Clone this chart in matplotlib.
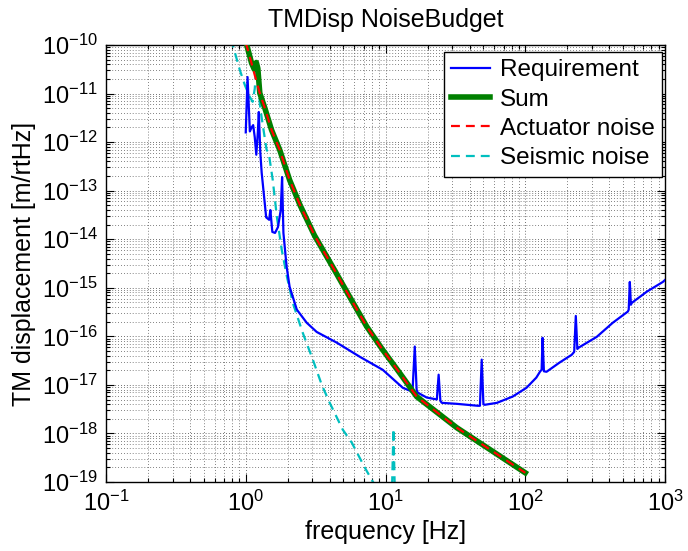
import numpy as np
import matplotlib
matplotlib.use("Agg")
import matplotlib.pyplot as plt

# ---- data ----
req_f = [1.00, 1.03, 1.07, 1.10, 1.13, 1.16, 1.19, 1.22, 1.24, 1.27, 1.30, 1.40,
         1.47, 1.50, 1.55, 1.62, 1.70, 1.78, 1.82, 1.86, 1.96, 2.06, 2.32, 2.73,
         3.22, 4.48, 6.54, 9.56, 13.3, 15.6, 16.2, 16.7, 17.0, 19.7, 23.3, 24.0,
         24.7, 25.3, 32.3, 45.7, 47.4, 48.8, 50.2, 51.3, 62.7, 81.3, 102, 120,
         128, 131, 133, 136, 142, 176, 215, 224, 230, 236, 242, 325, 423, 542,
         550, 560, 570, 579, 741, 965, 1000]
req_logv = [-11.80, -10.66, -11.78, -11.70, -11.65, -11.90, -12.26, -11.80, -11.38, -12.20, -12.63, -13.55,
            -13.60, -13.40, -13.85, -13.87, -13.75, -13.40, -12.72, -13.87, -14.56, -14.98, -15.45, -15.72,
            -15.91, -16.13, -16.42, -16.69, -17.06, -17.14, -16.21, -17.10, -17.16, -17.26, -17.30, -16.79,
            -17.33, -17.37, -17.39, -17.43, -17.43, -16.48, -17.40, -17.41, -17.37, -17.24, -17.06, -16.85,
            -16.72, -16.69, -16.03, -16.72, -16.73, -16.54, -16.38, -16.32, -15.58, -16.26, -16.23, -16.01, -15.72, -15.49,
            -15.45, -14.88, -15.35, -15.31, -15.08, -14.88, -14.84]

sum_f = [1.00, 1.016, 1.05, 1.10, 1.15, 1.19, 1.22, 1.26, 1.37, 1.53, 1.75, 2.06,
         2.44, 3.10, 4.19, 5.55, 7.34, 9.56, 12.6, 16.7, 32.3, 100]
sum_logv = [-9.90, -10.00, -10.15, -10.37, -10.50, -10.36, -10.48, -10.99, -11.30, -11.75, -12.16, -12.78,
            -13.29, -13.92, -14.57, -15.19, -15.80, -16.28, -16.75, -17.24, -17.88, -18.81]

act_f = [1.00, 1.07, 1.16, 1.26, 1.37, 1.53, 1.75, 2.06, 2.44, 3.10, 4.19, 5.55,
         7.34, 9.56, 12.6, 16.7, 32.3, 100]
act_logv = [-9.95, -10.25, -10.62, -10.99, -11.30, -11.75, -12.16, -12.78, -13.29, -13.92, -14.57, -15.19,
            -15.80, -16.28, -16.75, -17.24, -17.88, -18.81]

seis_f = [0.70, 0.807, 0.906, 0.984, 1.06, 1.12, 1.16, 1.19, 1.22, 1.26, 1.30, 1.41,
          1.46, 1.50, 1.56, 1.67, 1.81, 1.97, 2.17, 2.56, 3.02, 3.50, 3.99, 4.94,
          5.74, 7.10, 8.10, 9.00, 10.5, 11.1, 11.4, 11.7, 13.0, 20.0]
seis_logv = [-9.60, -10.00, -10.51, -10.82, -11.05, -11.17, -10.90, -10.45, -10.60, -11.20, -11.50, -12.16,
             -12.22, -12.45, -12.78, -13.54, -14.22, -14.77, -15.31, -15.93, -16.48, -17.00, -17.37, -17.92,
             -18.19, -18.70, -18.99, -19.20, -19.40, -19.30, -17.90, -19.40, -19.60, -20.20]

x_ticks = [1e-1, 1e0, 1e1, 1e2, 1e3]
y_ticks = [10.0 ** k for k in range(-19, -9)]

title = "TMDisp NoiseBudget"
xlabel = "frequency [Hz]"
ylabel = "TM displacement [m/rtHz]"
labels = ["Requirement", "Sum", "Actuator noise", "Seismic noise"]

# ---- style ----
plt.rcParams["font.family"] = ["Liberation Sans", "DejaVu Sans"]
plt.rcParams["mathtext.fontset"] = "custom"
plt.rcParams["mathtext.rm"] = "Liberation Sans"
plt.rcParams["mathtext.it"] = "Liberation Sans:italic"
plt.rcParams["mathtext.bf"] = "Liberation Sans:bold"

fig = plt.figure(figsize=(6.88, 5.51), dpi=100)
ax = fig.add_axes([106 / 688, 69 / 551, 559 / 688, 437 / 551])

ax.plot(req_f, 10.0 ** np.array(req_logv), color=(0, 0, 1), lw=1.6, label=labels[0], zorder=3)
ax.plot(sum_f, 10.0 ** np.array(sum_logv), color=(0, 0.5, 0), lw=4.0, label=labels[1], zorder=4)
ax.plot(act_f, 10.0 ** np.array(act_logv), color=(1, 0, 0), lw=1.6, ls=(0, (4, 2.7)),
        label=labels[2], zorder=5)
ax.plot(seis_f, 10.0 ** np.array(seis_logv), color=(0, 0.75, 0.75), lw=1.6, ls=(0, (4, 2.7)),
        label=labels[3], zorder=2)

ax.set_xscale("log")
ax.set_yscale("log")
ax.set_xlim(1e-1, 1e3)
ax.set_ylim(1e-19, 1e-10)
ax.set_xticks(x_ticks)
ax.set_yticks(y_ticks)
ax.yaxis.set_minor_locator(matplotlib.ticker.LogLocator(base=10, subs=np.arange(2, 10), numticks=100))
ax.xaxis.set_minor_locator(matplotlib.ticker.LogLocator(base=10, subs=np.arange(2, 10), numticks=100))
ax.yaxis.set_minor_formatter(matplotlib.ticker.NullFormatter())
ax.xaxis.set_minor_formatter(matplotlib.ticker.NullFormatter())

ax.grid(True, which="major", color="0.25", lw=0.6, ls=(0, (1, 2.5)))
ax.grid(True, which="minor", color="0.35", lw=0.6, ls=(0, (1, 2.5)))
ax.set_axisbelow(True)

ax.tick_params(which="both", direction="in", top=True, right=True, labelsize=17, width=0.8)
ax.tick_params(which="major", length=6, pad=6)
ax.tick_params(which="minor", length=3)
for s in ax.spines.values():
    s.set_linewidth(1.0)

ax.set_title(title, fontsize=18, pad=13)
ax.set_xlabel(xlabel, fontsize=18, labelpad=3)
ax.set_ylabel(ylabel, fontsize=18, labelpad=4)

leg = ax.legend(loc="upper right", bbox_to_anchor=((662 - 106) / 559, (551 - 52 - 69) / 437),
                fontsize=17.5, frameon=True, fancybox=False,
                edgecolor="black", framealpha=1, borderaxespad=0.0, handlelength=1.6,
                handletextpad=0.4, labelspacing=0.30, borderpad=0.3)
leg.get_frame().set_linewidth(1.0)

fig.savefig("out.png", dpi=100)
